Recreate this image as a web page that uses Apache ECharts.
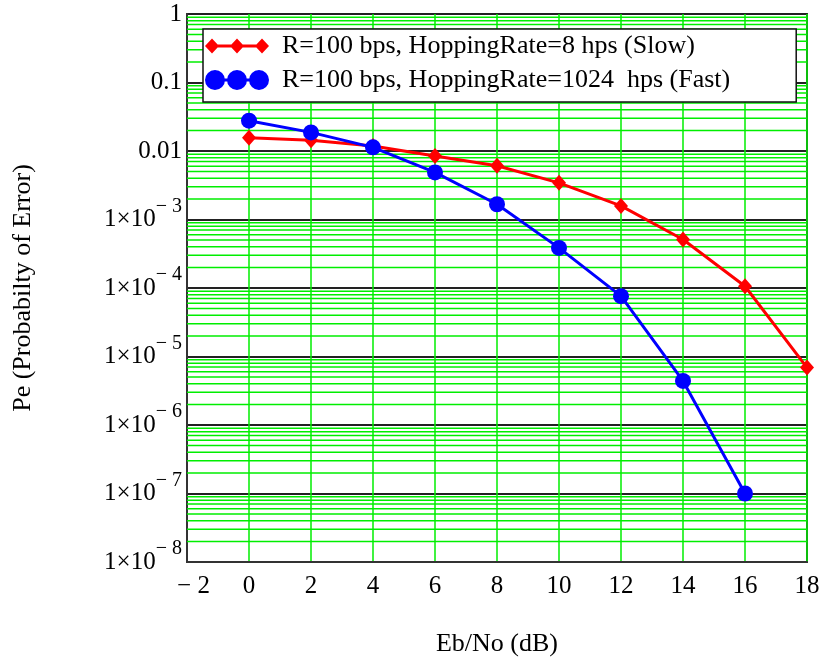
<!DOCTYPE html>
<html>
<head>
<meta charset="utf-8">
<script src="https://cdn.jsdelivr.net/npm/echarts@6/dist/echarts.min.js"></script>
<style>
  html, body { margin: 0; padding: 0; background: #fff; }
  #chart { width: 829px; height: 658px; }
</style>
</head>
<body>
<div id="chart"></div>
<script>
// data
var ebno = [0, 2, 4, 6, 8, 10, 12, 14, 16, 18];
var peSlow = [0.0156, 0.0144, 0.0118, 0.00843, 0.00608, 0.00343, 0.00158, 5.1e-4, 1.06e-4, 6.9e-6];
var peFast = [0.0277, 0.0187, 0.0113, 0.00487, 0.00167, 3.85e-4, 7.6e-5, 4.4e-6, 1.0e-7];
var slowName = 'R=100 bps, HoppingRate=8 hps (Slow)';
var fastName = 'R=100 bps, HoppingRate=1024  hps (Fast)';
var xMin = -2, xMax = 18, xStep = 2;
var yMin = 1e-8, yMax = 1;

var FONT = 'Liberation Serif';

function pairs(xs, ys) {
  var out = [];
  for (var i = 0; i < ys.length; i++) out.push([xs[i], ys[i]]);
  return out;
}

// minor grid lines at 2..9 in each decade
var minorVals = [];
for (var e = -8; e < 0; e++) {
  for (var m = 2; m <= 9; m++) minorVals.push([xMin, m * Math.pow(10, e)]);
}

// legend icons: line with three markers
var diamondIcon = 'path://M0,7.5L7,0L14,7.5L7,15Z M25,7.5L32,0L39,7.5L32,15Z M50,7.5L57,0L64,7.5L57,15Z M2,6L62,6L62,9L2,9Z';
var circleIcon = 'path://M0,10A10,10 0 1,1 20,10A10,10 0 1,1 0,10Z M22,10A10,10 0 1,1 42,10A10,10 0 1,1 22,10Z M44,10A10,10 0 1,1 64,10A10,10 0 1,1 44,10Z M2,8.5L62,8.5L62,11.5L2,11.5Z';

var chart = echarts.init(document.getElementById('chart'));
var option = {
  backgroundColor: '#fff',
  animation: false,
  textStyle: { fontFamily: FONT },
  grid: {
    left: 187, right: 22, top: 14, bottom: 96,
    outerBoundsMode: 'none',
    containLabel: false,
    show: true, borderColor: '#333', borderWidth: 2
  },
  legend: {
    orient: 'vertical',
    left: 203, top: 29,
    padding: [3, 66, 8, 2],
    itemWidth: 64, itemHeight: 20, itemGap: 6,
    symbolKeepAspect: true,
    backgroundColor: '#fff',
    borderColor: '#111', borderWidth: 1.5,
    textStyle: { fontFamily: FONT, fontSize: 26, color: '#000', lineHeight: 28, padding: [0, 0, 0, 8] },
    data: [
      { name: slowName, icon: diamondIcon },
      { name: fastName, icon: circleIcon }
    ],
    z: 10
  },
  xAxis: {
    type: 'value',
    min: xMin, max: xMax, interval: xStep,
    name: 'Eb/No (dB)',
    nameLocation: 'middle', nameGap: 69,
    nameTextStyle: { fontFamily: FONT, fontSize: 26, color: '#000' },
    axisLine: { onZero: false, lineStyle: { color: '#333', width: 2 } },
    axisTick: { show: false },
    axisLabel: {
      fontFamily: FONT, fontSize: 25, color: '#000', margin: 12,
      formatter: function (v) { return v < 0 ? '{n|\u2212 ' + Math.abs(v) + '}' : String(v); },
      rich: {
        n: { fontFamily: FONT, fontSize: 25, color: '#000', padding: [0, 0, 0, 13] }
      }
    },
    splitLine: { show: true, lineStyle: { color: '#00ee00', width: 1.5 } }
  },
  yAxis: {
    type: 'log', logBase: 10,
    min: yMin, max: yMax,
    name: 'Pe (Probabilty of Error)',
    nameLocation: 'middle', nameGap: 151,
    nameTextStyle: { fontFamily: FONT, fontSize: 26, color: '#000' },
    axisLine: { onZero: false, lineStyle: { color: '#333', width: 2 } },
    axisTick: { show: false },
    axisLabel: {
      margin: 5,
      formatter: function (v) {
        var ex = Math.round(Math.log10(v));
        if (ex === 0) return '{b|1}';
        if (ex === -1) return '{b|0.1}';
        if (ex === -2) return '{b|0.01}';
        return '{b|1\u00d710}{s|\u2212 ' + (-ex) + '}';
      },
      rich: {
        b: { fontFamily: FONT, fontSize: 25, color: '#000', lineHeight: 46 },
        s: { fontFamily: FONT, fontSize: 20, color: '#000', lineHeight: 20, verticalAlign: 'top' }
      }
    },
    splitLine: { show: true, lineStyle: { color: '#222', width: 2 } }
  },
  series: [
    {
      name: 'minor',
      type: 'custom',
      silent: true,
      z: 1,
      data: minorVals,
      renderItem: function (params, api) {
        var v = api.value(1);
        var p1 = api.coord([xMin, v]);
        var p2 = api.coord([xMax, v]);
        return {
          type: 'line',
          shape: { x1: p1[0], y1: p1[1], x2: p2[0], y2: p2[1] },
          style: { stroke: '#00ee00', lineWidth: 1.5 }
        };
      }
    },
    {
      name: slowName,
      type: 'line',
      z: 3,
      data: pairs(ebno, peSlow),
      symbol: 'diamond',
      symbolSize: [14, 16],
      color: '#ff0000',
      lineStyle: { color: '#ff0000', width: 3 },
      itemStyle: { color: '#ff0000' }
    },
    {
      name: fastName,
      type: 'line',
      z: 4,
      data: pairs(ebno, peFast),
      symbol: 'circle',
      symbolSize: 16,
      color: '#0000ff',
      lineStyle: { color: '#0000ff', width: 3 },
      itemStyle: { color: '#0000ff' }
    }
  ]
};
chart.setOption(option);
</script>
</body>
</html>
